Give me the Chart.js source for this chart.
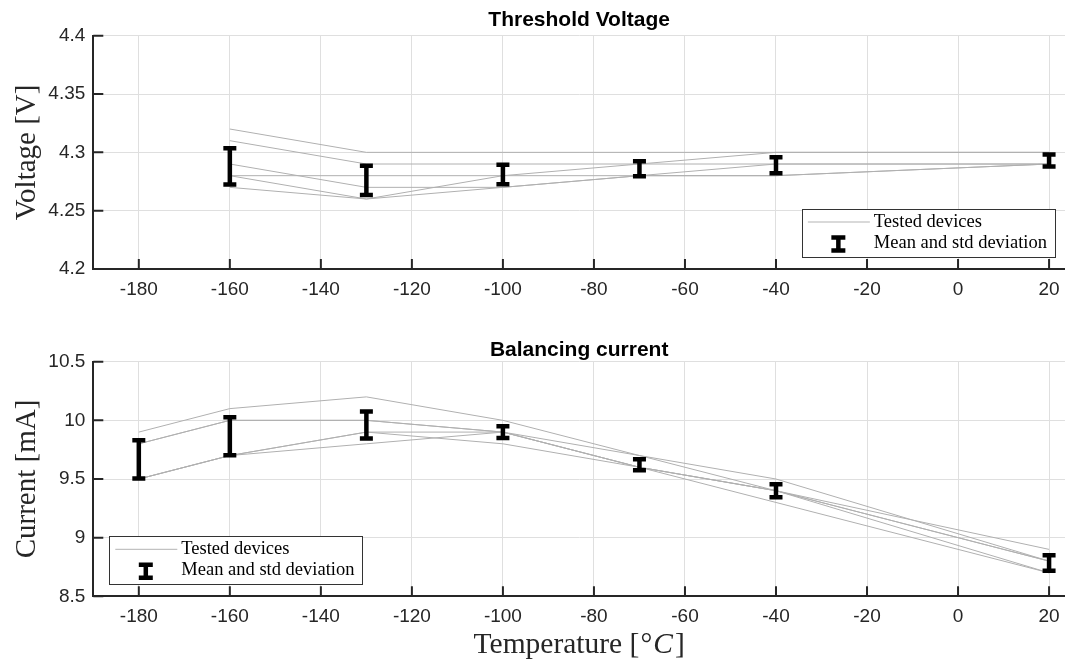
<!DOCTYPE html>
<html>
<head>
<meta charset="utf-8">
<script src="https://cdn.jsdelivr.net/npm/chart.js@4.4.1/dist/chart.umd.min.js"></script>
<style>
    body { margin: 0; background: #fff; }
    canvas { position: absolute; left: 0; }
    #voltageChart { top: 0; }
    #currentChart { top: 320px; }
</style>
</head>
<body>
<canvas id="voltageChart" width="1065" height="320"></canvas>
<canvas id="currentChart" width="1065" height="344"></canvas>
<script>
// temperatures (deg C) and per-device readings
const tempsV = [-160, -130, -100, -70, -40, 20];
const voltDev1 = [4.32, 4.30, 4.30, 4.30, 4.30, 4.30];
const voltDev2 = [4.31, 4.29, 4.29, 4.29, 4.30, 4.30];
const voltDev3 = [4.29, 4.27, 4.27, 4.28, 4.29, 4.29];
const voltDev4 = [4.28, 4.28, 4.28, 4.29, 4.29, 4.29];
const voltDev5 = [4.28, 4.26, 4.28, 4.28, 4.28, 4.29];
const voltDev6 = [4.27, 4.26, 4.27, 4.28, 4.28, 4.29];
const voltMean = [4.288, 4.276, 4.281, 4.286, 4.289, 4.293];
const voltStd = [0.0155, 0.0126, 0.0083, 0.0064, 0.0069, 0.0051];

const tempsI = [-180, -160, -130, -100, -70, -40, 20];
const currDev1 = [9.9, 10.1, 10.2, 10.0, 9.7, 9.5, 8.8];
const currDev2 = [9.8, 10.0, 10.0, 9.9, 9.6, 9.4, 8.9];
const currDev3 = [9.8, 10.0, 10.0, 9.9, 9.6, 9.4, 8.8];
const currDev4 = [9.5, 9.7, 9.9, 9.9, 9.7, 9.4, 8.8];
const currDev5 = [9.5, 9.7, 9.9, 9.8, 9.6, 9.3, 8.7];
const currDev6 = [9.5, 9.7, 9.8, 9.9, 9.6, 9.4, 8.7];
const currMean = [9.667, 9.864, 9.960, 9.900, 9.621, 9.400, 8.784];
const currStd = [0.163, 0.162, 0.115, 0.050, 0.047, 0.055, 0.066];

const xTicks = [-180, -160, -140, -120, -100, -80, -60, -40, -20, 0, 20];
const voltTicks = [4.2, 4.25, 4.3, 4.35, 4.4];
const currTicks = [8.5, 9, 9.5, 10, 10.5];
const legendLabels = ['Tested devices', 'Mean and std deviation'];

const AXIS = '#262626';
const SERIF = '"Liberation Serif", "Times New Roman", serif';
Chart.defaults.font.family = '"Liberation Sans", Arial, sans-serif';

function drawErrorBars(chart, temps, mean, std) {
    const { ctx, scales: { x, y } } = chart;
    ctx.save();
    ctx.strokeStyle = '#000';
    ctx.lineWidth = 4.5;
    ctx.lineCap = 'butt';
    temps.forEach((t, i) => {
        const px = x.getPixelForValue(t);
        const top = y.getPixelForValue(mean[i] + std[i]);
        const bot = y.getPixelForValue(mean[i] - std[i]);
        ctx.beginPath();
        ctx.moveTo(px, top); ctx.lineTo(px, bot);
        ctx.moveTo(px - 6.5, top); ctx.lineTo(px + 6.5, top);
        ctx.moveTo(px - 6.5, bot); ctx.lineTo(px + 6.5, bot);
        ctx.stroke();
    });
    ctx.restore();
}

function drawInnerTicks(chart) {
    const { ctx, chartArea, scales: { x, y } } = chart;
    ctx.save();
    ctx.strokeStyle = AXIS;
    ctx.lineWidth = 2;
    ctx.beginPath();
    x.ticks.forEach(t => {
        const px = x.getPixelForValue(t.value);
        ctx.moveTo(px, chartArea.bottom); ctx.lineTo(px, chartArea.bottom - 10);
    });
    y.ticks.forEach(t => {
        const py = y.getPixelForValue(t.value);
        ctx.moveTo(chartArea.left, py); ctx.lineTo(chartArea.left + 10, py);
    });
    ctx.stroke();
    ctx.restore();
}

function drawLegend(ctx, area, corner) {
    ctx.save();
    ctx.font = '18.5px ' + SERIF;
    const w = 72 + Math.max(...legendLabels.map(l => ctx.measureText(l).width)) + 8;
    const h = 48;
    const left = corner === 'right' ? area.right - 10 - w : area.left + 16;
    const top = area.bottom - 12 - h;
    ctx.fillStyle = '#fff';
    ctx.fillRect(left, top, w, h);
    ctx.strokeStyle = '#333';
    ctx.lineWidth = 1;
    ctx.strokeRect(Math.round(left) + 0.5, Math.round(top) + 0.5, Math.round(w), h);
    const r1 = top + 13, r2 = top + 35;
    ctx.strokeStyle = '#b3b3b3';
    ctx.beginPath();
    ctx.moveTo(left + 6, r1); ctx.lineTo(left + 68, r1);
    ctx.stroke();
    ctx.strokeStyle = '#000';
    ctx.lineWidth = 4.5;
    ctx.beginPath();
    const ix = left + 36.5;
    ctx.moveTo(ix, r2 - 6.5); ctx.lineTo(ix, r2 + 6.5);
    ctx.moveTo(ix - 7, r2 - 6.5); ctx.lineTo(ix + 7, r2 - 6.5);
    ctx.moveTo(ix - 7, r2 + 6.5); ctx.lineTo(ix + 7, r2 + 6.5);
    ctx.stroke();
    ctx.fillStyle = '#000';
    ctx.textBaseline = 'middle';
    ctx.fillText(legendLabels[0], left + 72, r1);
    ctx.fillText(legendLabels[1], left + 72, r2 - 1);
    ctx.restore();
}

function drawTitles(chart, cfg) {
    const { ctx, chartArea } = chart;
    const cx = (chartArea.left + chartArea.right) / 2;
    ctx.save();
    ctx.fillStyle = '#000';
    ctx.textAlign = 'center';
    ctx.textBaseline = 'alphabetic';
    ctx.font = 'bold 21px "Liberation Sans", Arial, sans-serif';
    ctx.fillText(cfg.title, cx, cfg.titleY);

    // rotated y-axis label
    ctx.font = '29px ' + SERIF;
    ctx.fillStyle = AXIS;
    ctx.save();
    ctx.translate(34.5, (chartArea.top + chartArea.bottom) / 2);
    ctx.rotate(-Math.PI / 2);
    ctx.fillText(cfg.yTitle, 0, 0);
    ctx.restore();

    if (cfg.xTitle) {
        // Temperature [°C] with italic C
        const parts = [
            { text: 'Temperature [', font: '29.5px ' + SERIF, gap: 1 },
            { text: '°', font: '29.5px ' + SERIF, gap: 1 },
            { text: 'C', font: 'italic 29.5px ' + SERIF, gap: 2 },
            { text: ']', font: '29.5px ' + SERIF, gap: 0 }
        ];
        let total = 0;
        parts.forEach(p => { ctx.font = p.font; p.w = ctx.measureText(p.text).width; total += p.w + p.gap; });
        let px = cx - total / 2;
        ctx.textAlign = 'left';
        parts.forEach(p => {
            ctx.font = p.font;
            ctx.fillText(p.text, px, cfg.xTitleY);
            px += p.w + p.gap;
        });
    }
    ctx.restore();
}

function makeChart(canvasId, cfg) {
    const datasets = cfg.devices.map(dev => ({
        data: cfg.temps.map((t, i) => ({ x: t, y: dev[i] })),
        borderColor: '#b0b0b0',
        borderWidth: 1,
        pointRadius: 0,
        fill: false,
        tension: 0
    }));

    const decor = {
        id: 'decor',
        afterDatasetsDraw(chart) {
            drawErrorBars(chart, cfg.temps, cfg.mean, cfg.std);
        },
        afterDraw(chart) {
            drawLegend(chart.ctx, chart.chartArea, cfg.legendCorner);
            drawInnerTicks(chart);
            drawTitles(chart, cfg);
        }
    };

    const tickFont = { size: 19 };
    return new Chart(document.getElementById(canvasId).getContext('2d'), {
        type: 'line',
        data: { datasets },
        options: {
            responsive: false,
            animation: false,
            layout: { padding: { top: cfg.padTop, left: 0, right: 0, bottom: 0 } },
            plugins: { legend: { display: false }, title: { display: false }, tooltip: { enabled: false } },
            scales: {
                x: {
                    type: 'linear',
                    min: -190,
                    max: 23.5,
                    afterBuildTicks: scale => { scale.ticks = xTicks.map(v => ({ value: v })); },
                    afterFit: scale => {
                        scale.height = cfg.xHeight;
                        scale.paddingLeft = 0;
                        scale.paddingRight = 0;
                    },
                    ticks: { color: AXIS, font: tickFont, padding: 9.5, maxRotation: 0, autoSkip: false,
                             callback: v => String(v) },
                    grid: { color: '#dfdfdf', lineWidth: 1, drawTicks: false },
                    border: { display: true, color: AXIS, width: 2 }
                },
                y: {
                    type: 'linear',
                    min: cfg.yTicks[0],
                    max: cfg.yTicks[cfg.yTicks.length - 1],
                    afterBuildTicks: scale => { scale.ticks = cfg.yTicks.map(v => ({ value: v })); },
                    afterFit: scale => { scale.width = 93.3; },
                    ticks: { color: AXIS, font: tickFont, padding: 8, autoSkip: false,
                             callback: v => String(+v.toFixed(2)) },
                    grid: { color: '#dfdfdf', lineWidth: 1, drawTicks: false },
                    border: { display: true, color: AXIS, width: 2 }
                }
            }
        },
        plugins: [decor]
    });
}

makeChart('voltageChart', {
    temps: tempsV,
    devices: [voltDev1, voltDev2, voltDev3, voltDev4, voltDev5, voltDev6],
    mean: voltMean,
    std: voltStd,
    yTicks: voltTicks,
    title: 'Threshold Voltage',
    titleY: 26,
    yTitle: 'Voltage [V]',
    legendCorner: 'right',
    padTop: 35.7,
    xHeight: 51
});

makeChart('currentChart', {
    temps: tempsI,
    devices: [currDev1, currDev2, currDev3, currDev4, currDev5, currDev6],
    mean: currMean,
    std: currStd,
    yTicks: currTicks,
    title: 'Balancing current',
    titleY: 36,
    yTitle: 'Current [mA]',
    xTitle: true,
    xTitleY: 333,
    legendCorner: 'left',
    padTop: 41.7,
    xHeight: 67.7
});
</script>
</body>
</html>
